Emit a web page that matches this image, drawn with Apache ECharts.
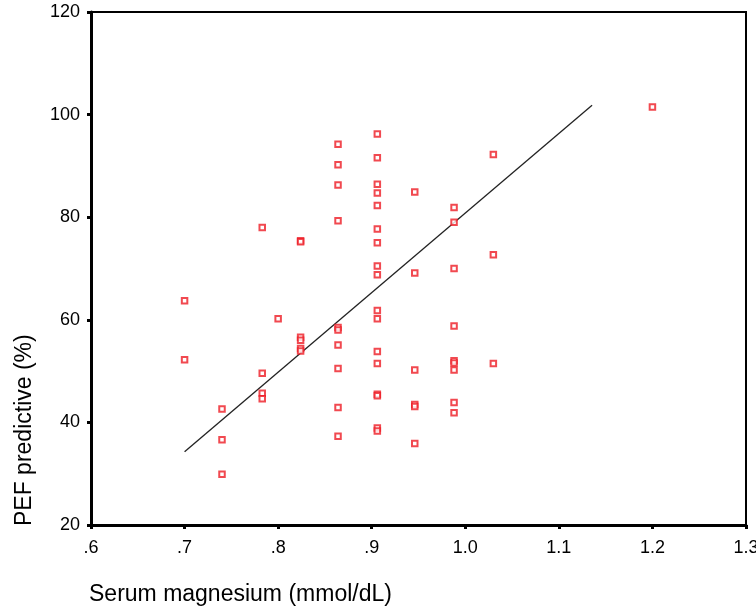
<!DOCTYPE html>
<html>
<head>
<meta charset="utf-8">
<script src="https://cdn.jsdelivr.net/npm/echarts@6/dist/echarts.min.js"></script>
<style>html,body{margin:0;padding:0;background:#fff;}#chart{width:756px;height:610px;}</style>
</head>
<body>
<div id="chart"></div>
<script>
// Serum magnesium (mmol/dL) for each subject
var magnesium = [
  0.70, 0.70,
  0.74, 0.74, 0.74,
  0.783, 0.783, 0.783, 0.783,
  0.80,
  0.824, 0.824, 0.824, 0.824, 0.824, 0.824,
  0.864, 0.864, 0.864, 0.864, 0.864, 0.864, 0.864, 0.864, 0.864, 0.864,
  0.906, 0.906, 0.906, 0.906, 0.906, 0.906, 0.906, 0.906, 0.906, 0.906, 0.906, 0.906, 0.906, 0.906, 0.906, 0.906, 0.906,
  0.946, 0.946, 0.946, 0.946, 0.946, 0.946,
  0.988, 0.988, 0.988, 0.988, 0.988, 0.988, 0.988, 0.988, 0.988,
  1.03, 1.03, 1.03,
  1.20
];
// PEF predictive (%) for each subject
var pef = [
  63.7, 52.2,
  42.6, 36.6, 29.9,
  78.0, 49.6, 45.7, 44.6,
  60.2,
  75.4, 75.2, 56.6, 56.0, 54.4, 53.9,
  94.2, 90.2, 86.3, 79.3, 58.5, 58.0, 55.1, 50.5, 42.9, 37.3,
  96.2, 91.6, 86.4, 84.7, 82.3, 77.7, 75.0, 70.5, 68.8, 61.8, 60.2, 53.8, 51.5, 45.5, 45.2, 38.9, 38.3,
  84.9, 69.1, 50.2, 43.5, 43.1, 35.9,
  81.9, 79.0, 70.0, 58.8, 52.0, 51.6, 50.2, 43.9, 41.9,
  92.2, 72.7, 51.5,
  101.5
];
// Fitted regression line endpoints
var fitX = [0.70, 1.1355];
var fitY = [34.3, 101.8];

var xTicks = ['.6', '.7', '.8', '.9', '1.0', '1.1', '1.2', '1.3'];
var yTicks = [20, 40, 60, 80, 100, 120];

var points = magnesium.map(function (m, i) { return [m, pef[i]]; });
var fitLine = fitX.map(function (x, i) { return [x, fitY[i]]; });

var chart = echarts.init(document.getElementById('chart'), null, { renderer: 'canvas' });
var labelFont = { color: '#000', fontSize: 18, fontFamily: 'Liberation Sans, Arial, sans-serif' };
chart.setOption({
  animation: false,
  backgroundColor: '#fff',
  grid: {
    left: 91, right: 10, top: 12, bottom: 85,
    show: true, borderColor: '#000', borderWidth: 2,
    outerBoundsMode: 'none'
  },
  xAxis: {
    type: 'value', min: 0.6, max: 1.3, interval: 0.1,
    splitLine: { show: false },
    axisLine: { show: true, onZero: false, lineStyle: { color: '#000', width: 3 } },
    axisTick: { show: true, length: 4, lineStyle: { color: '#000', width: 3 } },
    axisLabel: Object.assign({
      margin: 14,
      formatter: function (v) {
        var idx = Math.round((v - 0.6) * 10);
        return xTicks[idx] !== undefined ? xTicks[idx] : '';
      }
    }, labelFont)
  },
  yAxis: {
    type: 'value', min: yTicks[0], max: yTicks[yTicks.length - 1], interval: 20,
    splitLine: { show: false },
    axisLine: { show: true, onZero: false, lineStyle: { color: '#000', width: 3 } },
    axisTick: { show: true, length: 4, lineStyle: { color: '#000', width: 3 } },
    axisLabel: Object.assign({ margin: 11 }, labelFont)
  },
  graphic: [
    {
      type: 'text', left: 89, top: 583,
      style: { text: 'Serum magnesium (mmol/dL)', fill: '#000', font: '23px "Liberation Sans", Arial, sans-serif' }
    },
    {
      type: 'text', x: 13, y: 526, rotation: Math.PI / 2,
      style: { text: 'PEF predictive (%)', fill: '#000', font: '23px "Liberation Sans", Arial, sans-serif', textAlign: 'left', textVerticalAlign: 'top' }
    }
  ],
  series: [
    {
      type: 'scatter',
      data: points,
      symbol: 'rect',
      symbolSize: 5.5,
      itemStyle: { color: '#fff', borderColor: '#ee1c24', borderWidth: 2 },
      emphasis: { disabled: true },
      z: 3
    },
    {
      type: 'line',
      data: fitLine,
      symbol: 'none',
      lineStyle: { color: '#222', width: 1.3 },
      z: 2
    }
  ]
});
</script>
</body>
</html>
